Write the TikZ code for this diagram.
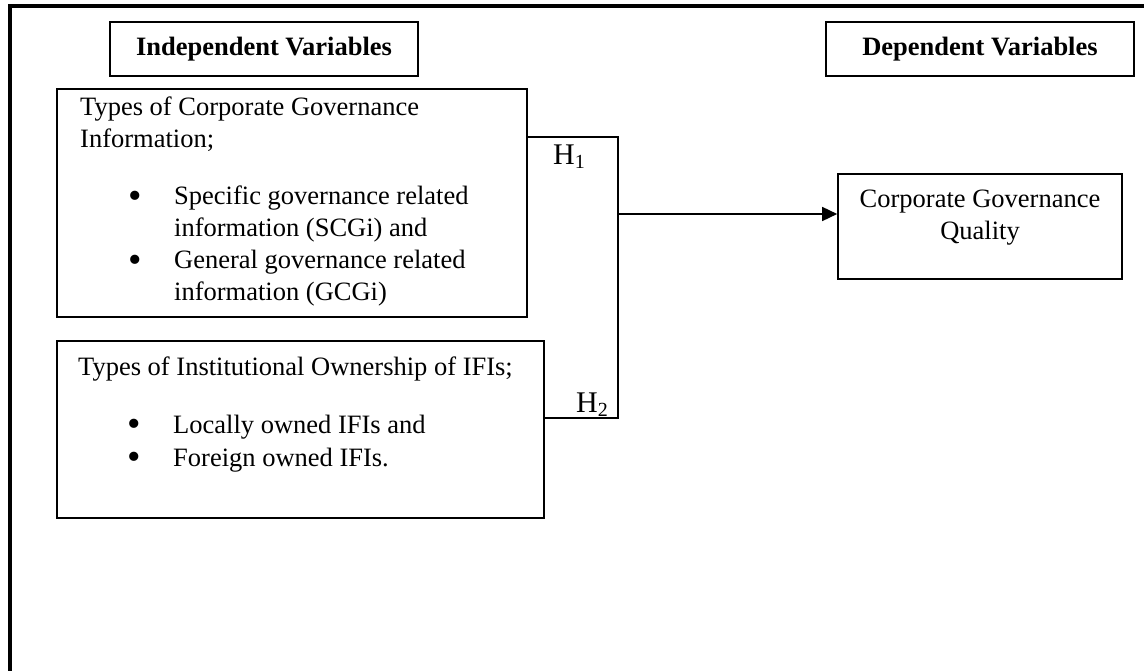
\documentclass[tikz,border=0pt]{standalone}
\usepackage{fontspec}
\setmainfont{Liberation Serif}
\usetikzlibrary{arrows.meta}
\newcommand\txtfont{\fontsize{26.5}{32}\selectfont}
\newcommand\hfont{\fontsize{30}{30}\selectfont}
\newcommand\subfont{\fontsize{20}{20}\selectfont}
\newcommand\blt{\makebox[46pt][l]{\raisebox{-3.5pt}[0pt][0pt]{\scalebox{1.45}{\textbullet}}}}
\begin{document}
\begin{tikzpicture}[x=1pt,y=-1pt,
  box/.style={draw, line width=1.6pt, rectangle, inner sep=0pt},
  txt/.style={anchor=base west, inner sep=0pt, font=\txtfont},
  ctxt/.style={anchor=base, inner sep=0pt, font=\txtfont},
  hlab/.style={anchor=base west, inner sep=0pt, font=\hfont},
  conn/.style={line width=1.5pt},
  arr/.style={line width=1.5pt, -{Triangle[length=15pt,width=14pt]}}]
\useasboundingbox (0,0) rectangle (1144,671);
% outer frame
\draw[line width=4pt, line join=miter] (1144,6.5) -- (10,6.5) -- (10,671);
% heading boxes
\node[box, minimum width=308pt, minimum height=54pt, font=\txtfont\bfseries] (indep) at (264,49) {Independent Variables};
\node[box, minimum width=308pt, minimum height=54pt, font=\txtfont\bfseries] (dep) at (980,49) {Dependent Variables};
% box 1
\node[box, minimum width=470pt, minimum height=228pt] (cgi) at (292,203) {};
\node[txt] (cgi1) at (80,116) {Types of Corporate Governance};
\node[txt] (cgi2) at (80,148) {Information;};
\node[txt] (cgi3) at (128,205) {\blt Specific governance related};
\node[txt] (cgi4) at (174,237) {information (SCGi) and};
\node[txt] (cgi5) at (128,269) {\blt General governance related};
\node[txt] (cgi6) at (174,301) {information (GCGi)};
% box 2
\node[box, minimum width=487pt, minimum height=177pt] (own) at (300.5,429.5) {};
\node[txt] (own1) at (78,375) {Types of Institutional Ownership of IFIs;};
\node[txt] (own2) at (127,433) {\blt Locally owned IFIs and};
\node[txt] (own3) at (127,466) {\blt Foreign owned IFIs.};
% dependent box
\node[box, minimum width=284pt, minimum height=105pt] (cgq) at (980,226.5) {};
\node[ctxt] (cgq1) at (980,208) {Corporate Governance};
\node[ctxt] (cgq2) at (980,240) {Quality};
% connectors
\coordinate (j1) at (618,137);
\coordinate (j2) at (618,418);
\coordinate (jm) at (618,214);
\draw[conn, line join=miter] (cgi.east |- j1) -- (j1) -- (j2) -- (own.east |- j2);
\draw[arr] (jm) -- (cgq.west |- jm);
% hypothesis labels
\node[hlab] (h1) at (553,165) {H\raisebox{-4pt}{\subfont 1}};
\node[hlab] (h2) at (576,412) {H\raisebox{-4pt}{\subfont 2}};
\end{tikzpicture}
\end{document}
